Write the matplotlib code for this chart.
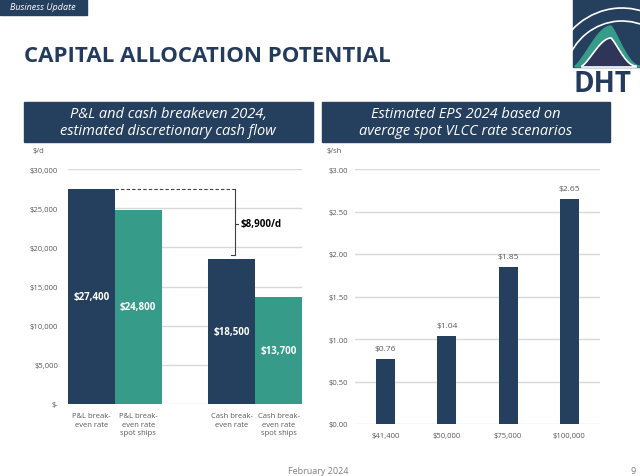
import matplotlib
matplotlib.use("Agg")
import matplotlib.pyplot as plt
from matplotlib.patches import Rectangle, Polygon, Arc
import numpy as np

# ---- data ----
breakeven_labels = ["P&L break-\neven rate", "P&L break-\neven rate\nspot ships",
                    "Cash break-\neven rate", "Cash break-\neven rate\nspot ships"]
breakeven_values = [27400, 24800, 18500, 13700]
breakeven_slots = [0, 1, 3, 4]
breakeven_ticks = [0, 5000, 10000, 15000, 20000, 25000, 30000]
breakeven_ticklabels = ["$-", "$5,000", "$10,000", "$15,000", "$20,000", "$25,000", "$30,000"]

eps_labels = ["$41,400", "$50,000", "$75,000", "$100,000"]
eps_values = [0.76, 1.04, 1.85, 2.65]
eps_ticks = [0.0, 0.5, 1.0, 1.5, 2.0, 2.5, 3.0]

NAVY = "#253F5F"
TEAL = "#379B89"
GRID = "#D9D9D9"
GRAY = "#595959"

W, H = 640, 477
plt.rcParams["font.family"] = ["Open Sans", "DejaVu Sans"]

fig = plt.figure(figsize=(W / 100, H / 100), dpi=100)


def px(x, y):
    """pixel coords (top-left origin) -> figure fraction"""
    return x / W, 1 - y / H


def box(x0, y0, x1, y1, color):
    fx, fy = px(x0, y1)
    fig.patches.append(Rectangle((fx, fy), (x1 - x0) / W, (y1 - y0) / H,
                                 transform=fig.transFigure, color=color, zorder=0))


# banner + title
box(0, 0, 87, 16, NAVY)
fig.text(*px(10, 8), "Business Update", color="white", fontsize=6.5, style="italic",
         va="center", ha="left")
fig.text(*px(24, 56), "CAPITAL ALLOCATION POTENTIAL", color="#243B5E", fontsize=16,
         fontweight="bold", va="center", ha="left")

# logo
lax = fig.add_axes([570 / W, 1 - 92 / H, 70 / W, 92 / H])
lax.set_xlim(570, 640)
lax.set_ylim(92, 0)
lax.axis("off")
lax.add_patch(Rectangle((573, 0), 67, 68, color=NAVY))
t = np.linspace(0, 1, 40)
left = np.column_stack([575 + 36 * t ** 0.8, 67 - 40 * np.sin(t * np.pi / 2)])
right = np.column_stack([611 + 29 * t, 27 + 40 * np.sin(t * np.pi / 2) ** 1.2])
lax.add_patch(Polygon(np.vstack([left, right, [[640, 68], [575, 68]]]), color=TEAL))
left2 = np.column_stack([582 + 29 * t ** 0.8, 67 - 28 * np.sin(t * np.pi / 2)])
right2 = np.column_stack([611 + 25 * t, 39 + 28 * np.sin(t * np.pi / 2) ** 1.2])
lax.add_patch(Polygon(np.vstack([left2, right2, [[636, 68], [582, 68]]]),
                      facecolor="#2E3558", edgecolor="white", lw=1.2))
lax.add_patch(Arc((622, 82), 140, 146, theta1=200, theta2=330, color="white", lw=1.2))
lax.add_patch(Arc((622, 82), 116, 120, theta1=198, theta2=335, color="white", lw=1.2))
lax.text(573, 84, "DHT", color="#243B5E", fontsize=20, fontweight="bold",
         ha="left", va="center", clip_on=False)

# panel headers
box(24, 103, 313, 143, NAVY)
fig.text(*px(168, 123), "P&L and cash breakeven 2024,\nestimated discretionary cash flow",
         color="white", fontsize=10.5, style="italic", ha="center", va="center",
         linespacing=1.25)
box(322, 103, 610, 143, NAVY)
fig.text(*px(466, 123), "Estimated EPS 2024 based on\naverage spot VLCC rate scenarios",
         color="white", fontsize=10.5, style="italic", ha="center", va="center",
         linespacing=1.25)


def style_axes(ax):
    for s in ax.spines.values():
        s.set_visible(False)
    ax.tick_params(length=0, labelsize=5.5, colors=GRAY)
    ax.grid(axis="y", color=GRID, lw=1)
    ax.set_axisbelow(True)


# left chart
ax1 = fig.add_axes([68 / W, 1 - 405 / H, 234 / W, 235 / H])
style_axes(ax1)
colors = [NAVY, TEAL, NAVY, TEAL]
ax1.bar(breakeven_slots, breakeven_values, width=1.0, color=colors)
ax1.set_xlim(-0.5, 4.5)
ax1.set_ylim(0, 30000)
ax1.set_yticks(breakeven_ticks)
ax1.set_yticklabels(breakeven_ticklabels)
ax1.tick_params(axis="y", pad=7)
ax1.set_xticks(breakeven_slots)
ax1.set_xticklabels(breakeven_labels, fontsize=5.5, linespacing=1.3, va="top")
ax1.tick_params(axis="x", pad=6)
for x, v in zip(breakeven_slots, breakeven_values):
    ax1.text(x, v / 2, f"${v:,}", color="white", fontsize=7, fontweight="bold",
             ha="center", va="center")
# discretionary cash flow bracket
top, low = breakeven_values[0], breakeven_values[2]
bx = 3.07
ax1.plot([0.5, bx], [top, top], color="#404040", lw=0.8, ls=(0, (3, 2)))
ax1.plot([bx, bx], [top, low + 500], color="#404040", lw=0.8)
ax1.plot([bx - 0.08, bx], [low + 500, low + 500], color="#404040", lw=0.8)
ax1.plot([bx, bx + 0.06], [23000, 23000], color="#404040", lw=0.8)
ax1.text(bx + 0.12, 23000, f"${top - low:,}/d", fontsize=7,
         fontweight="bold", color="black", ha="left", va="center")
fig.text(*px(33, 151), "$/d", fontsize=5.5, color=GRAY, ha="left", va="center")

# right chart
ax2 = fig.add_axes([355 / W, 1 - 425 / H, 245 / W, 255 / H])
style_axes(ax2)
xs = np.arange(len(eps_values))
ax2.bar(xs, eps_values, width=0.31, color=NAVY)
ax2.set_xlim(-0.5, 3.5)
ax2.set_ylim(0, 3)
ax2.set_yticks(eps_ticks)
ax2.set_yticklabels([f"${v:.2f}" for v in eps_ticks])
ax2.tick_params(axis="y", pad=5)
ax2.set_xticks(xs)
ax2.set_xticklabels(eps_labels)
ax2.tick_params(axis="x", pad=6)
for x, v in zip(xs, eps_values):
    ax2.annotate(f"${v:.2f}", (x, v), xytext=(0, 5), textcoords="offset points",
                 fontsize=6, color=GRAY, ha="center", va="bottom")
fig.text(*px(327, 151), "$/sh", fontsize=5.5, color=GRAY, ha="left", va="center")

# footer
fig.text(*px(288, 472), "February 2024", fontsize=6.5, color="#7F7F7F", ha="left", va="center")
fig.text(*px(636, 472), "9", fontsize=6.5, color="#7F7F7F", ha="right", va="center")

fig.savefig("out.png", dpi=100)
